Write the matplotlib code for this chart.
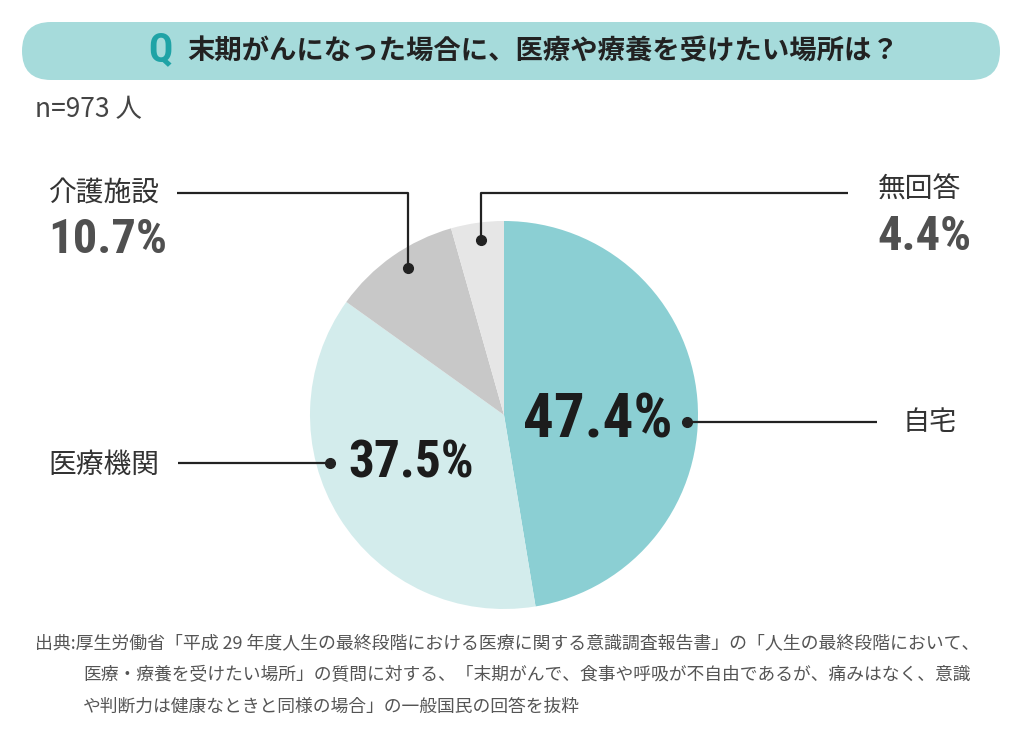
import matplotlib
matplotlib.use("Agg")
import matplotlib.pyplot as plt
from matplotlib import font_manager
from matplotlib.patches import FancyBboxPatch

plt.rcParams['font.family'] = ['Noto Sans CJK JP', 'DejaVu Sans']

# data
labels = ["自宅", "医療機関", "介護施設", "無回答"]
shares = [47.4, 37.5, 10.7, 4.4]
colors = ["#8bcfd3", "#d3ecec", "#c8c8c8", "#e6e6e6"]
title = "末期がんになった場合に、医療や療養を受けたい場所は？"
n_text = "n=973 人"
source_lines = [
    "出典:厚生労働省「平成 29 年度人生の最終段階における医療に関する意識調査報告書」の「人生の最終段階において、",
    "医療・療養を受けたい場所」の質問に対する、「末期がんで、食事や呼吸が不自由であるが、痛みはなく、意識",
    "や判断力は健康なときと同様の場合」の一般国民の回答を抜粋",
]

W, H = 1024, 745


def Y(y):
    # image pixel row -> axes y
    return H - y


# a narrow bold face for the big numbers, if one is there
names = {f.name for f in font_manager.fontManager.ttflist}
num_font = ['Noto Sans CJK JP']
for cand in ["Liberation Sans Narrow", "DejaVu Sans Condensed", "Roboto Condensed", "Open Sans Condensed"]:
    if cand in names:
        num_font = [cand, 'Noto Sans CJK JP']
        break

fig = plt.figure(figsize=(W / 100, H / 100), dpi=100)
ax = fig.add_axes([0, 0, 1, 1])

# pie
cx, cy, r = 504, 415, 194
ax.pie(shares, colors=colors, startangle=90, counterclock=False,
       center=(cx, Y(cy)), radius=r, wedgeprops=dict(linewidth=0))

ax.set_xlim(0, W)
ax.set_ylim(0, H)
ax.set_aspect("equal")
ax.axis("off")

# title banner
banner = FancyBboxPatch((22 + 29, Y(51)), 978 - 58, 0.001,
                        boxstyle="round,pad=29,rounding_size=29",
                        fc="#a6dbdb", ec="none")
ax.add_patch(banner)
ax.text(160, Y(50), "Q", fontsize=29, fontweight="bold", color="#1fa3a6",
        ha="center", va="center", family=num_font)
ax.text(187, Y(51), title, fontsize=19.7, fontweight="bold", color="#222222",
        ha="left", va="center")

ax.text(35, Y(110), n_text, fontsize=19, color="#444444", ha="left", va="center")

# leaders
line_kw = dict(color="#222222", lw=1.6, solid_capstyle="butt")
dot_kw = dict(marker="o", ms=7, color="#222222", ls="none")

# 自宅
ax.plot([687, 877], [Y(422), Y(422)], **line_kw)
ax.plot([687], [Y(422)], **dot_kw)
ax.text(903, Y(422), labels[0], fontsize=19.5, color="#333333", ha="left", va="center")
ax.text(598, Y(420), f"{shares[0]}%", fontsize=44, fontweight="bold", color="#1c1c1c",
        ha="center", va="center", family=num_font)

# 医療機関
ax.plot([178, 330], [Y(463), Y(463)], **line_kw)
ax.plot([330], [Y(463)], **dot_kw)
ax.text(48, Y(465), labels[1], fontsize=20, color="#333333", ha="left", va="center")
ax.text(411, Y(464), f"{shares[1]}%", fontsize=37, fontweight="bold", color="#1c1c1c",
        ha="center", va="center", family=num_font)

# 介護施設
ax.plot([177, 408, 408], [Y(193), Y(193), Y(268)], **line_kw)
ax.plot([408], [Y(268)], **dot_kw)
ax.text(48, Y(193), labels[2], fontsize=20, color="#333333", ha="left", va="center")
ax.text(48, Y(240), f"{shares[2]}%", fontsize=35, fontweight="bold", color="#505050",
        ha="left", va="center", family=num_font)

# 無回答
ax.plot([848, 481, 481], [Y(193), Y(193), Y(240)], **line_kw)
ax.plot([481], [Y(240)], **dot_kw)
ax.text(878, Y(190), labels[3], fontsize=20, color="#333333", ha="left", va="center")
ax.text(877, Y(237), f"{shares[3]}%", fontsize=35, fontweight="bold", color="#505050",
        ha="left", va="center", family=num_font)

# source note
ax.text(35, Y(643), source_lines[0], fontsize=12.9, color="#555555", ha="left", va="center")
ax.text(83, Y(675), source_lines[1], fontsize=12.8, color="#555555", ha="left", va="center")
ax.text(83, Y(707), source_lines[2], fontsize=12.8, color="#555555", ha="left", va="center")

fig.savefig("out.png", dpi=100, facecolor="white")
